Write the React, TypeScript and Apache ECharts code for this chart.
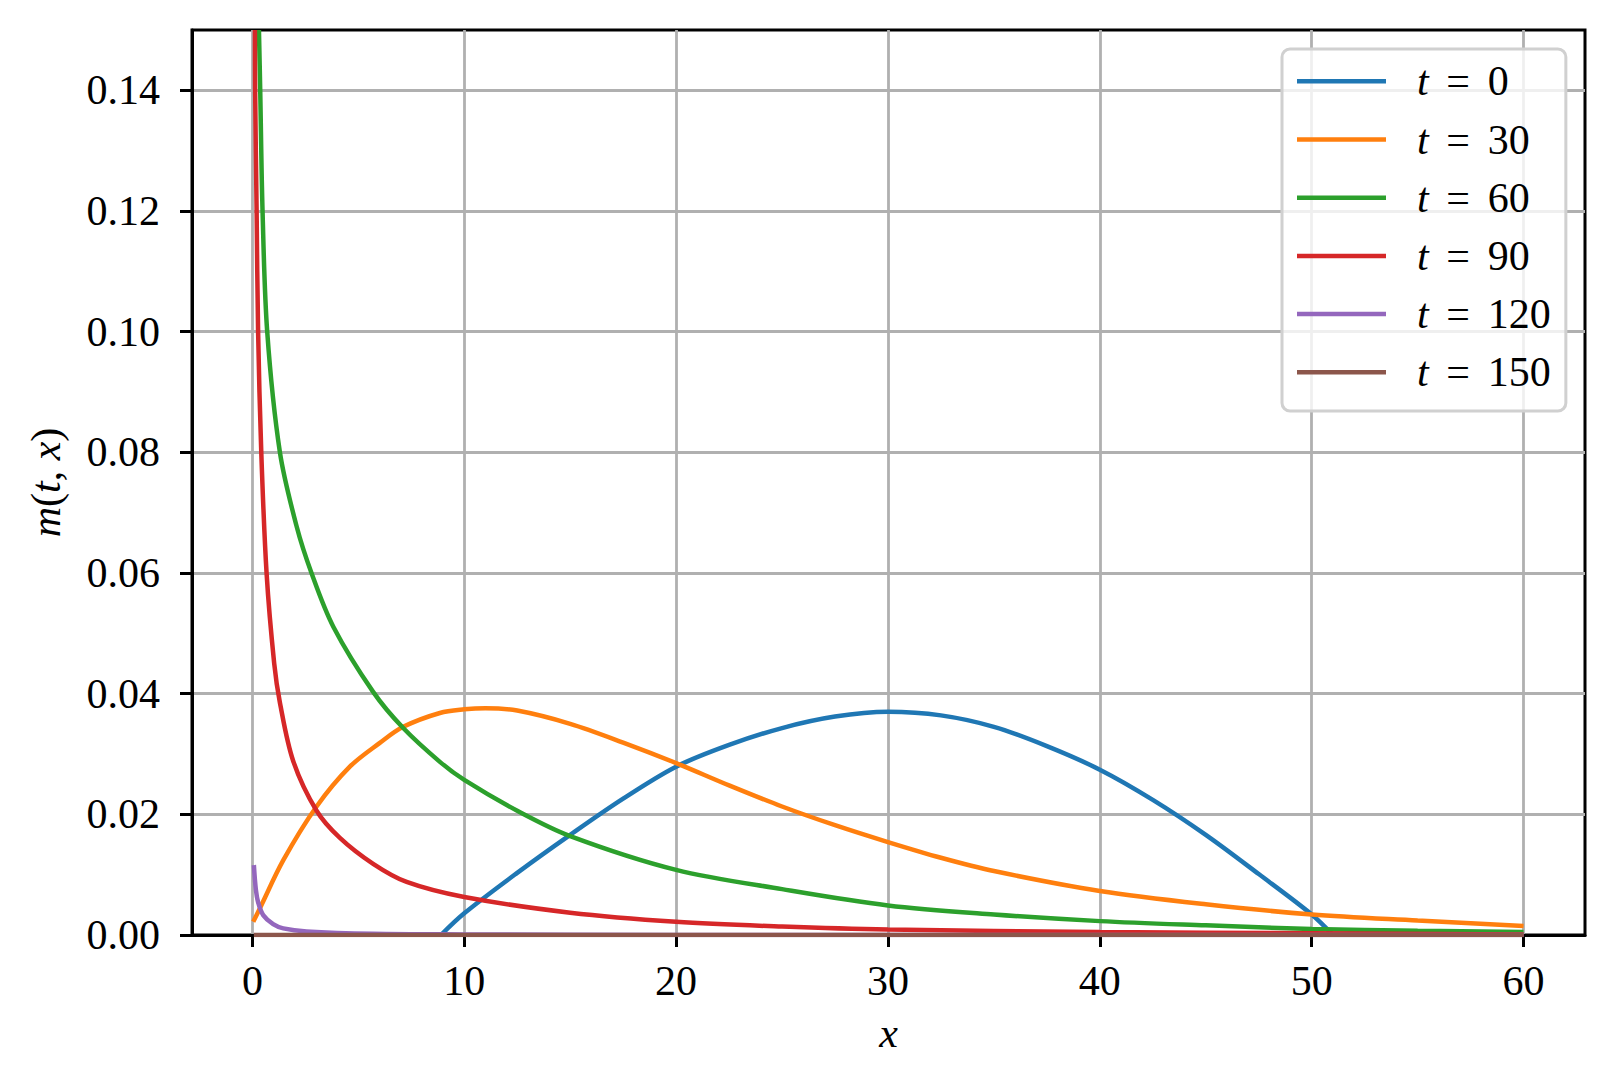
import React, { useEffect, useRef } from "react";
import * as echarts from "echarts";

const seriesNames = ["t = 0", "t = 30", "t = 60", "t = 90", "t = 120", "t = 150"];
const seriesColors = ["#1f77b4", "#ff7f0e", "#2ca02c", "#d62728", "#9467bd", "#8c564b"];
const xTicks = [0, 10, 20, 30, 40, 50, 60];
const yTicks = [0, 0.02, 0.04, 0.06, 0.08, 0.1, 0.12, 0.14];

const mT0 = [
  [8.9, 0], [10, 0.0036], [12.5, 0.0103], [15, 0.0166], [17.5, 0.0226], [20, 0.0279],
  [22.5, 0.0315], [25, 0.0343], [27.5, 0.0362], [30, 0.037], [32.5, 0.0364], [35, 0.0345],
  [37.5, 0.0313], [40, 0.0274], [42.5, 0.0224], [45, 0.0166], [47.5, 0.0101], [50, 0.0034],
  [51, 0],
];
const mT30 = [
  [0.04, 0.0022], [0.35, 0.0044], [1.46, 0.0124], [3.03, 0.0213], [4.6, 0.0279], [6, 0.0318],
  [7.12, 0.0345], [8.85, 0.0368], [10, 0.0374], [11, 0.0376], [12.5, 0.0372], [15, 0.035],
  [17.5, 0.0319], [20, 0.0285], [22.5, 0.0248], [25, 0.0213], [27.5, 0.0182], [30, 0.0154],
  [32.5, 0.0128], [35, 0.0106], [40, 0.0073], [45, 0.0051], [50, 0.0034], [55, 0.0024],
  [60, 0.0015],
];
const mT60 = [
  [0.31, 0.15], [0.37, 0.14], [0.48, 0.12], [0.7, 0.1], [1.3, 0.08], [2.09, 0.0677], [2.79, 0.06],
  [3.82, 0.0511], [5.7, 0.0403], [7.12, 0.0343], [8.85, 0.0287], [10, 0.0257], [12.5, 0.0206],
  [15, 0.0164], [20, 0.0108], [25, 0.0076], [30, 0.0049], [35, 0.0034], [40, 0.0023],
  [45, 0.0016], [50, 0.001], [55, 0.0007], [60, 0.0005],
];
const mT90 = [
  [0.12, 0.15], [0.13, 0.14], [0.2, 0.12], [0.27, 0.1], [0.42, 0.08], [0.67, 0.06], [1.03, 0.045],
  [1.3, 0.0385], [1.93, 0.0288], [3.03, 0.0206], [4.13, 0.0161], [5.7, 0.0118], [7.28, 0.0088],
  [10, 0.0063], [15, 0.0037], [20, 0.0022], [25, 0.0014], [30, 0.0009], [40, 0.0005],
  [50, 0.0003], [60, 0.0001],
];
const mT120 = [
  [0.07, 0.0116], [0.165, 0.0075], [0.28, 0.0053], [0.51, 0.0033], [0.98, 0.0018], [1.46, 0.0011],
  [2.56, 0.0006], [5.7, 0.0002], [10, 0.0001], [20, 0], [60, 0],
];
const mT150 = [
  [0.07, 0], [60, 0],
];
const seriesData = [mT0, mT30, mT60, mT90, mT120, mT150];

const FONT = "Liberation Serif";

export default function App() {
  const ref = useRef<HTMLDivElement>(null);
  useEffect(() => {
    if (!ref.current) return;
    const chart = echarts.init(ref.current, null, { renderer: "svg" });
    const axisCommon = {
      axisLine: { show: true, onZero: false, lineStyle: { color: "#000", width: 3 } },
      axisTick: { show: true, inside: false, length: 12, lineStyle: { color: "#000", width: 3 } },
      splitLine: { show: true, lineStyle: { color: "#b0b0b0", width: 2.8 } },
    };
    const base = { fontSize: 42, fontFamily: FONT, color: "#000", lineHeight: 42 };
    chart.setOption({
      animation: false,
      backgroundColor: "#fff",
      grid: {
        show: true, borderColor: "#000", borderWidth: 3, backgroundColor: "transparent",
        left: 192, right: 31, top: 30, bottom: 150,
      },
      xAxis: {
        type: "value", min: -2.85, max: 62.9,
        ...axisCommon,
        axisTick: { ...axisCommon.axisTick, customValues: xTicks },
        axisLabel: {
          customValues: xTicks, margin: 25, color: "#000", fontSize: 42, fontFamily: FONT,
          formatter: (v: number) => String(v),
        },
        name: "x", nameLocation: "middle", nameGap: 77,
        nameTextStyle: { fontSize: 42, fontFamily: FONT, fontStyle: "italic", color: "#000" },
      },
      yAxis: {
        type: "value", min: 0, max: 0.15,
        ...axisCommon,
        axisTick: { ...axisCommon.axisTick, customValues: yTicks },
        axisLabel: {
          customValues: yTicks, margin: 32, color: "#000", fontSize: 42, fontFamily: FONT,
          formatter: (v: number) => v.toFixed(2),
        },
        name: "{i|m}({i|t}, {i|x})", nameLocation: "middle", nameGap: 125, nameRotate: 90,
        nameTextStyle: {
          fontSize: 42, fontFamily: FONT, color: "#000",
          rich: { i: { fontSize: 42, fontFamily: FONT, fontStyle: "italic", color: "#000" } },
        },
      },
      legend: {
        orient: "vertical", left: 1282, top: 49,
        padding: [11.3, 15, 17.7, 15],
        itemGap: 16.2, itemWidth: 89, itemHeight: 4.5, icon: "rect",
        backgroundColor: "rgba(255,255,255,0.8)", borderColor: "#d0d0d0", borderWidth: 3,
        borderRadius: 8, selectedMode: false, z: 6,
        data: seriesNames,
        formatter: (name: string) => `{s1| }{t|t}{s2| }{eq|=}{s3| }{n|${name.split("= ")[1]}}`,
        textStyle: {
          ...base,
          rich: {
            s1: { ...base, width: 26 },
            t: { ...base, fontStyle: "italic" },
            s2: { ...base, width: 17.5 },
            eq: { ...base },
            s3: { ...base, width: 18 },
            n: { ...base },
          },
        },
      },
      series: seriesNames.map((name, i) => ({
        name, type: "line", data: seriesData[i], showSymbol: false, symbol: "none",
        smooth: 0.33, clip: true,
        lineStyle: { width: 4.5, color: seriesColors[i] },
        itemStyle: { color: seriesColors[i] },
      })),
    });
    return () => chart.dispose();
  }, []);
  return <div ref={ref} style={{ position: "fixed", left: 0, top: 0, width: 1616, height: 1085 }} />;
}
